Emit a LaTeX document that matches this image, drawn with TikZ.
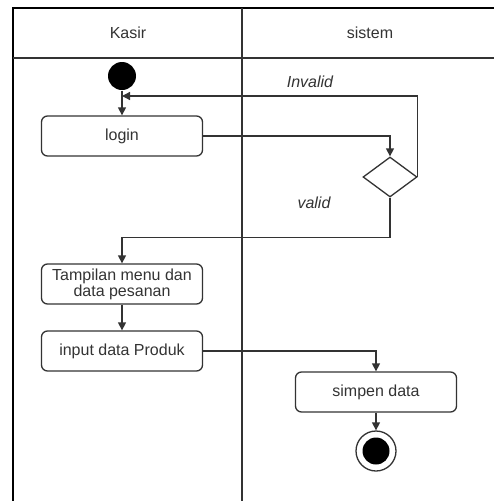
\documentclass[tikz,border=0pt]{standalone}
\usepackage{fontspec}
\setmainfont{Liberation Sans}
\usetikzlibrary{positioning,shapes.geometric,arrows.meta}
\tikzset{every picture/.style={line width=1.3pt}}

\begin{document}
\begin{tikzpicture}[x=1pt,y=-1pt,
  font=\fontsize{16}{18}\selectfont, color=black!80,
  act/.style={draw, rounded corners=6pt, minimum width=161pt, minimum height=40pt, inner sep=1pt, align=center},
  lbl/.style={font=\fontsize{16}{18}\selectfont\itshape},
  >={Triangle[width=8pt,length=8pt]}]
  \useasboundingbox (0,0) rectangle (494,501);
  % swimlanes
  \draw[line width=2.5pt, black] (494,8) -- (13,8) -- (13,501);
  \draw (13,58) -- (494,58);
  \draw (242,8) -- (242,501);
  \node (kasir) at (128,33) {Kasir};
  \node (sistem) at (370,33) {sistem};
  % kasir lane
  \node[circle, fill=black, minimum size=28pt, inner sep=0pt] (start) at (122,76) {};
  \node[act] (login) at (122,136) {login};
  \node[act] (menu) at (122,284) {Tampilan menu dan\\[-2pt]data pesanan};
  \node[act] (input) at (122,351) {input data Produk};
  % sistem lane
  \node[diamond, draw, minimum width=54pt, minimum height=40pt, inner sep=0pt] (cek) at (390,177) {};
  \node[act] (simpen) at (376,392) {simpen data};
  \node[circle, draw, minimum size=40pt, inner sep=0pt] (finish) at (376,451) {};
  \node[circle, fill=black, minimum size=27pt, inner sep=0pt] (finishdot) at (finish) {};
  \coordinate (back) at (122,96);
  \node[lbl] (invalid) at (310,82) {Invalid};
  \node[lbl] (valid) at (314,203) {valid};
  % arrows
  \draw[->] (start) -- (login);
  \draw[->] (login.east) -| (cek.north);
  \draw[->] (cek.east) |- (back);
  \draw[->] (cek.south) -- ++(0,40) -| (menu.north);
  \draw[->] (menu) -- (input);
  \draw[->] (input.east) -| (simpen.north);
  \draw[->] (simpen) -- (finish);
\end{tikzpicture}
\end{document}
